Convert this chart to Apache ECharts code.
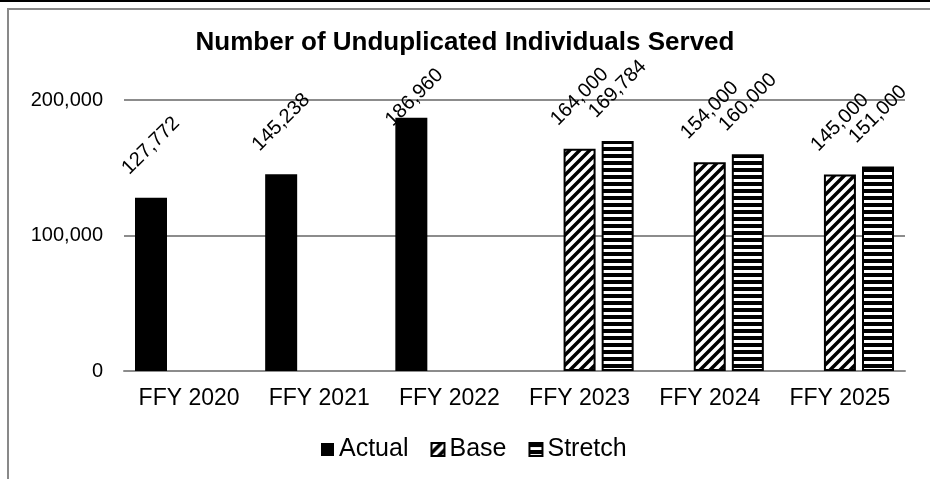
<!DOCTYPE html>
<html>
<head>
<meta charset="utf-8">
<script src="https://cdn.jsdelivr.net/npm/echarts@6/dist/echarts.min.js"></script>
<style>
  html, body { margin: 0; padding: 0; background: #fff; }
  #chart { width: 930px; height: 479px; }
</style>
</head>
<body>
<div id="chart"></div>
<script>
var categories = ['FFY 2020', 'FFY 2021', 'FFY 2022', 'FFY 2023', 'FFY 2024', 'FFY 2025']
var actualValues = [127772, 145238, 186960, null, null, null]
var baseValues = [null, null, null, 164000, 154000, 145000]
var stretchValues = [null, null, null, 169784, 160000, 151000]
var yTicks = [0, 100000, 200000]

var FONT = "'Liberation Sans', Arial, sans-serif"

// hatch patterns like the excel fills
function diagPattern () {
  var c = document.createElement('canvas')
  c.width = 10
  c.height = 10
  var ctx = c.getContext('2d')
  ctx.fillStyle = '#fff'
  ctx.fillRect(0, 0, 10, 10)
  ctx.strokeStyle = '#000'
  ctx.lineWidth = 3.5
  ctx.beginPath()
  ctx.moveTo(-5, 15); ctx.lineTo(15, -5)
  ctx.moveTo(-5, 5); ctx.lineTo(5, -5)
  ctx.moveTo(5, 15); ctx.lineTo(15, 5)
  ctx.stroke()
  return c
}
function horizPattern () {
  var c = document.createElement('canvas')
  c.width = 8
  c.height = 7
  var ctx = c.getContext('2d')
  ctx.fillStyle = '#fff'
  ctx.fillRect(0, 0, 8, 7)
  ctx.fillStyle = '#000'
  ctx.fillRect(0, 0, 8, 4)
  return c
}

function fmt (v) {
  return Number(v).toLocaleString('en-US')
}

var barLabel = {
  show: true,
  position: ['50%', -52],
  rotate: 45,
  align: 'center',
  verticalAlign: 'middle',
  color: '#000',
  fontFamily: FONT,
  fontSize: 20,
  formatter: function (p) { return p.value == null ? '' : fmt(p.value) }
}

// keep labels from running into the title: push them down under it
function keepBelowTitle (params) {
  var r = params.labelRect
  if (r.y < 55) {
    return {
      x: r.x + r.width / 2 + 3,
      y: 65 + r.height / 2,
      align: 'center',
      verticalAlign: 'middle'
    }
  }
  return {}
}

var chart = echarts.init(document.getElementById('chart'))
var option = {
  animation: false,
  backgroundColor: '#fff',
  title: {
    text: 'Number of Unduplicated Individuals Served',
    left: 'center',
    top: 30,
    padding: 0,
    textStyle: { fontFamily: FONT, fontSize: 26, fontWeight: 'bold', color: '#000' }
  },
  graphic: [
    { type: 'rect', shape: { x: 0, y: 0, width: 930, height: 2 }, style: { fill: '#000' } },
    { type: 'rect', shape: { x: 8, y: 9, width: 940, height: 490 }, style: { fill: 'none', stroke: '#898989', lineWidth: 2 } }
  ],
  legend: {
    left: 316,
    top: 432,
    icon: 'rect',
    itemWidth: 13,
    itemHeight: 13,
    itemGap: 22,
    textStyle: { fontFamily: FONT, fontSize: 25, color: '#000' },
    data: ['Actual', 'Base', 'Stretch']
  },
  grid: { left: 124, right: 25, top: 100, bottom: 108 },
  xAxis: {
    type: 'category',
    data: categories,
    axisTick: { show: false },
    axisLine: { lineStyle: { color: '#8c8c8c', width: 2 } },
    axisLabel: { color: '#000', fontFamily: FONT, fontSize: 23, margin: 16, interval: 0 }
  },
  yAxis: {
    type: 'value',
    min: yTicks[0],
    max: yTicks[yTicks.length - 1],
    interval: yTicks[1] - yTicks[0],
    axisLine: { show: false },
    axisTick: { show: false },
    splitLine: { lineStyle: { color: '#8c8c8c', width: 2 } },
    axisLabel: { color: '#000', fontFamily: FONT, fontSize: 20, margin: 21, formatter: fmt }
  },
  series: [
    {
      name: 'Actual',
      type: 'bar',
      data: actualValues,
      barWidth: 32,
      barGap: '19%',
      itemStyle: { color: '#000' },
      label: barLabel,
      labelLayout: keepBelowTitle
    },
    {
      name: 'Base',
      type: 'bar',
      data: baseValues,
      barWidth: 32,
      barGap: '19%',
      itemStyle: { color: { image: diagPattern(), repeat: 'repeat' }, borderColor: '#000', borderWidth: 2 },
      label: barLabel,
      labelLayout: keepBelowTitle
    },
    {
      name: 'Stretch',
      type: 'bar',
      data: stretchValues,
      barWidth: 32,
      barGap: '19%',
      itemStyle: { color: { image: horizPattern(), repeat: 'repeat' }, borderColor: '#000', borderWidth: 2 },
      label: barLabel,
      labelLayout: keepBelowTitle
    }
  ]
}
chart.setOption(option)
</script>
</body>
</html>
